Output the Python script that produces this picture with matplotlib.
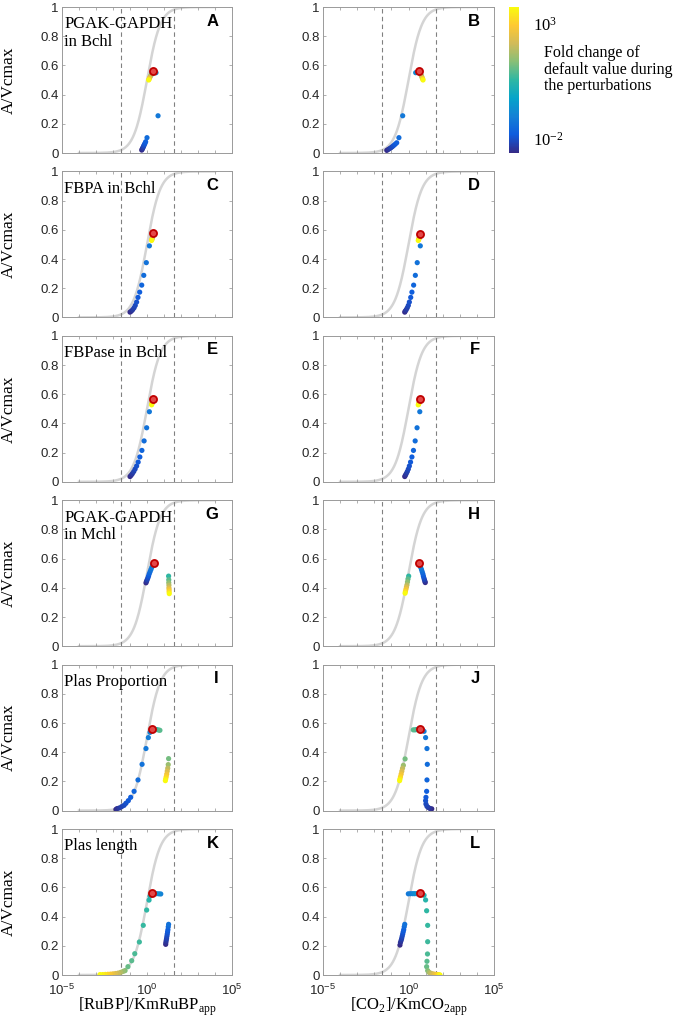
import matplotlib
matplotlib.use("Agg")
import matplotlib.pyplot as plt
import numpy as np
from matplotlib.colors import LinearSegmentedColormap
from matplotlib.ticker import FixedLocator, FixedFormatter, NullLocator

plt.rcParams['mathtext.fontset'] = 'custom'
plt.rcParams['mathtext.rm'] = 'Liberation Serif'
plt.rcParams['mathtext.sf'] = 'Liberation Sans'
plt.rcParams['font.family'] = ['Liberation Sans', 'DejaVu Sans']

# ---- data (log10 x, A/Vcmax, log10 fold change) ----
A_logx = [-0.31, -0.28, -0.25, -0.22, -0.19, -0.16, -0.12, -0.08, 0.0, 0.65, 0.53,
          0.30, 0.25, 0.20, 0.15, 0.12, 0.10]
A_y = [0.020, 0.027, 0.034, 0.041, 0.049, 0.057, 0.066, 0.077, 0.105, 0.255, 0.55,
       0.545, 0.535, 0.525, 0.515, 0.505, 0.50]
A_fold = [-2.0, -1.9, -1.8, -1.7, -1.6, -1.5, -1.4, -1.3, -1.1, -0.9, -0.6,
          0.5, 1.0, 1.5, 2.0, 2.5, 3.0]

B_logx = [-1.27, -1.19, -1.11, -1.03, -0.95, -0.87, -0.78, -0.69, -0.56, -0.34, 0.42,
          0.69, 0.73, 0.77, 0.80, 0.83, 0.85]
B_y = [0.018, 0.024, 0.030, 0.036, 0.043, 0.051, 0.060, 0.070, 0.105, 0.255, 0.55,
       0.546, 0.535, 0.525, 0.515, 0.507, 0.50]
B_fold = A_fold

C_logx = [-1.0, -0.92, -0.84, -0.76, -0.69, -0.61, -0.53, -0.43, -0.31, -0.19, -0.04, 0.14,
          0.33, 0.32, 0.31, 0.30, 0.28, 0.27]
C_y = [0.036, 0.043, 0.053, 0.066, 0.082, 0.105, 0.137, 0.173, 0.221, 0.288, 0.375, 0.49,
       0.56, 0.552, 0.545, 0.538, 0.532, 0.527]
C_fold = [-2.0, -1.9, -1.8, -1.7, -1.6, -1.5, -1.4, -1.3, -1.2, -1.1, -1.0, -0.9,
          0.5, 1.0, 1.5, 2.0, 2.5, 3.0]

D_logx = [-0.22, -0.19, -0.13, -0.07, -0.01, 0.05, 0.13, 0.20, 0.30, 0.40, 0.51, 0.69,
          0.67, 0.65, 0.63, 0.61, 0.59, 0.57]
D_y = C_y
D_fold = C_fold

E_logx = [-1.0, -0.93, -0.86, -0.78, -0.70, -0.61, -0.52, -0.42, -0.30, -0.17, -0.02, 0.14,
          0.33, 0.32, 0.31, 0.30, 0.28, 0.27]
E_y = [0.036, 0.045, 0.056, 0.070, 0.087, 0.108, 0.135, 0.170, 0.215, 0.28, 0.37, 0.48,
       0.56, 0.552, 0.545, 0.538, 0.532, 0.527]
E_fold = C_fold

F_logx = [-0.22, -0.18, -0.13, -0.07, -0.01, 0.05, 0.12, 0.20, 0.29, 0.39, 0.50, 0.66,
          0.67, 0.65, 0.63, 0.61, 0.59, 0.57]
F_y = E_y
F_fold = C_fold

G_logx = [-0.06, -0.03, 0.01, 0.05, 0.09, 0.13, 0.18, 0.23, 0.28, 0.33,
          1.27, 1.28, 1.28, 1.29, 1.29, 1.30, 1.30, 1.31]
G_y = [0.434, 0.444, 0.455, 0.467, 0.48, 0.495, 0.51, 0.525, 0.54, 0.555,
       0.48, 0.455, 0.435, 0.418, 0.40, 0.387, 0.373, 0.36]
G_fold = [-2.0, -1.85, -1.7, -1.55, -1.4, -1.25, -1.1, -0.95, -0.8, -0.6,
          0.5, 0.85, 1.2, 1.55, 1.9, 2.25, 2.6, 3.0]

H_logx = [0.98, 0.96, 0.93, 0.90, 0.87, 0.84, 0.80, 0.76, 0.71, 0.66,
          0.01, -0.03, -0.06, -0.09, -0.12, -0.15, -0.18, -0.20]
H_y = [0.436, 0.444, 0.455, 0.467, 0.48, 0.495, 0.51, 0.525, 0.54, 0.555,
       0.48, 0.46, 0.44, 0.42, 0.405, 0.39, 0.375, 0.363]
H_fold = G_fold

I_logx = [-1.82, -1.75, -1.63, -1.49, -1.35, -1.24, -1.10, -0.96, -0.76, -0.53, -0.29, -0.06, 0.08, 0.18,
          0.45, 0.57, 0.68, 0.76, 1.27, 1.25, 1.22, 1.19, 1.16, 1.13, 1.10, 1.08]
I_y = [0.009, 0.014, 0.018, 0.027, 0.036, 0.05, 0.068, 0.091, 0.132, 0.21, 0.317, 0.425, 0.50, 0.536,
       0.557, 0.555, 0.552, 0.55, 0.356, 0.315, 0.29, 0.27, 0.25, 0.232, 0.217, 0.205]
I_fold = [-2.0, -1.9, -1.8, -1.7, -1.6, -1.5, -1.4, -1.3, -1.2, -1.1, -1.0, -0.9, -0.8, -0.7,
          0.2, 0.4, 0.6, 0.8, 1.0, 1.3, 1.6, 1.9, 2.2, 2.5, 2.8, 3.0]

J_logx = [1.36, 1.26, 1.16, 1.08, 1.02, 1.00, 1.02, 1.06, 1.08, 1.10, 1.08, 1.00, 0.91, 0.80,
          0.58, 0.48, 0.38, 0.28, -0.20, -0.30, -0.35, -0.39, -0.43, -0.47, -0.50, -0.52]
J_y = [0.012, 0.014, 0.021, 0.029, 0.045, 0.068, 0.091, 0.132, 0.21, 0.317, 0.425, 0.50, 0.543, 0.555,
       0.557, 0.555, 0.553, 0.553, 0.354, 0.31, 0.29, 0.27, 0.25, 0.232, 0.217, 0.205]
J_fold = I_fold

K_logx = [1.10, 1.11, 1.13, 1.15, 1.17, 1.19, 1.21, 1.23, 1.25, 1.27, 0.81, 0.70, 0.57, 0.45,
          0.18, 0.12, -0.02, -0.22, -0.45, -0.72, -0.90, -1.12, -1.29,
          -1.40, -1.55, -1.70, -1.85, -2.0, -2.15, -2.30, -2.45, -2.60, -2.76]
K_y = [0.21, 0.223, 0.237, 0.25, 0.265, 0.28, 0.295, 0.31, 0.33, 0.347, 0.555, 0.556, 0.557, 0.558,
       0.54, 0.513, 0.445, 0.34, 0.226, 0.146, 0.098, 0.057, 0.03,
       0.025, 0.018, 0.013, 0.010, 0.008, 0.006, 0.005, 0.004, 0.003, 0.003]
K_fold = [-2.0, -1.9, -1.8, -1.7, -1.6, -1.5, -1.4, -1.3, -1.15, -1.0, -0.75, -0.6, -0.45, -0.3,
          0.3, 0.4, 0.5, 0.55, 0.6, 0.7, 0.8, 0.9, 1.1,
          1.3, 1.5, 1.7, 1.9, 2.1, 2.3, 2.5, 2.7, 2.85, 3.0]

L_logx = [-0.50, -0.47, -0.43, -0.40, -0.37, -0.34, -0.31, -0.28, -0.25, -0.22, -0.01, 0.12, 0.25, 0.36, 0.48, 0.58,
          0.91, 1.00, 1.06, 1.12, 1.12, 1.11, 1.08, 1.06, 1.12,
          1.20, 1.30, 1.40, 1.50, 1.60, 1.68, 1.74, 1.80, 1.84]
L_y = [0.205, 0.223, 0.237, 0.25, 0.265, 0.28, 0.295, 0.31, 0.33, 0.347, 0.556, 0.557, 0.557, 0.557, 0.557, 0.558,
       0.546, 0.514, 0.44, 0.34, 0.228, 0.144, 0.094, 0.057, 0.03,
       0.018, 0.012, 0.008, 0.006, 0.004, 0.003, 0.002, 0.001, 0.0]
L_fold = [-2.0, -1.9, -1.8, -1.7, -1.6, -1.5, -1.4, -1.3, -1.15, -1.0, -0.9, -0.8, -0.7, -0.55, -0.45, -0.3,
          0.3, 0.4, 0.5, 0.55, 0.6, 0.7, 0.8, 0.9, 1.1,
          1.4, 1.6, 1.8, 2.0, 2.2, 2.4, 2.6, 2.8, 3.0]

# default (unperturbed) state, panels A..L
default_logx = [0.37, 0.61, 0.35, 0.69, 0.35, 0.69, 0.39, 0.60, 0.31, 0.69, 0.31, 0.69]
default_y = [0.564, 0.564, 0.577, 0.573, 0.57, 0.57, 0.568, 0.568, 0.56, 0.56, 0.56, 0.56]

panel_letters = list("ABCDEFGHIJKL")
row_names = ["PGAK-GAPDH\nin Bchl", "FBPA in Bchl", "FBPase in Bchl",
             "PGAK-GAPDH\nin Mchl", "Plas Proportion", "Plas length"]
limit_lines = [10 ** -1.55, 10 ** 1.6]
Km = 1.0
hill_n = 1.1

series = [(A_logx, A_y, A_fold), (B_logx, B_y, B_fold), (C_logx, C_y, C_fold),
          (D_logx, D_y, D_fold), (E_logx, E_y, E_fold), (F_logx, F_y, F_fold),
          (G_logx, G_y, G_fold), (H_logx, H_y, H_fold), (I_logx, I_y, I_fold),
          (J_logx, J_y, J_fold), (K_logx, K_y, K_fold), (L_logx, L_y, L_fold)]

# parula-like colormap
parula = LinearSegmentedColormap.from_list('parula', [
    (0.2081, 0.1663, 0.5292), (0.0592, 0.3599, 0.8684), (0.0780, 0.5041, 0.8385),
    (0.0232, 0.6419, 0.7914), (0.1802, 0.7178, 0.6425), (0.5301, 0.7492, 0.4662),
    (0.8186, 0.7328, 0.3499), (0.9956, 0.7862, 0.1968), (0.9763, 0.9831, 0.0538)])

W, H = 679, 1023
fig = plt.figure(figsize=(W / 100, H / 100), dpi=100)

col_left = [62, 323]
col_width = [170, 171]
row_top = [7, 171.4, 335.8, 500.2, 664.6, 829]
ax_h = 146

S = np.logspace(-4, 4, 400)
curve = S ** hill_n / (Km ** hill_n + S ** hill_n)

for i, (lx, yy, ff) in enumerate(series):
    r, c = divmod(i, 2)
    ax = fig.add_axes([col_left[c] / W, 1 - (row_top[r] + ax_h) / H, col_width[c] / W, ax_h / H])
    ax.plot(S, curve, color='#d4d4d4', lw=1.8, zorder=1)
    for xv in limit_lines:
        ax.plot([xv, xv], [0, 1], color='#808080', lw=0.8, dashes=(4, 3), zorder=1)
    ax.scatter(10 ** np.array(lx), yy, c=ff, cmap=parula, vmin=-2, vmax=3, s=14,
               edgecolors='none', zorder=3)
    ax.scatter([10 ** default_logx[i]], [default_y[i]], s=26, facecolor='#e34848',
               edgecolor='#c00000', linewidth=1.3, zorder=4)
    ax.set_xscale('log')
    ax.set_xlim(1e-5, 1e5)
    ax.set_ylim(0, 1)
    ax.xaxis.set_major_locator(FixedLocator([10.0 ** k for k in range(-5, 6)]))
    ax.xaxis.set_minor_locator(NullLocator())
    if r == 5:
        labs = [r'$\mathsf{10^{-5}}$' if k == -5 else r'$\mathsf{10^{0}}$' if k == 0
                else r'$\mathsf{10^{5}}$' if k == 5 else '' for k in range(-5, 6)]
    else:
        labs = [''] * 11
    ax.xaxis.set_major_formatter(FixedFormatter(labs))
    ax.set_yticks([0, 0.2, 0.4, 0.6, 0.8, 1])
    ax.set_yticklabels(['0', '0.2', '0.4', '0.6', '0.8', '1'])
    ax.tick_params(direction='in', length=2.5, width=0.5, color='#909090', top=True, right=True,
                   labelsize=9.5, labelcolor='#262626', pad=2.5)
    ax.tick_params(axis='x', pad=5.5)
    for sp in ax.spines.values():
        sp.set_color('#9a9a9a')
        sp.set_linewidth(0.7)
    ax.text(0.92, 0.955, panel_letters[i], transform=ax.transAxes, ha='right', va='top',
            fontsize=12, fontweight='bold', family='Liberation Sans')
    if c == 0:
        ax.text(0.012, 0.935, row_names[r], transform=ax.transAxes, ha='left', va='top',
                fontsize=12, family='Liberation Serif', linespacing=1.1)
        fig.text(9 / W, 1 - (row_top[r] + ax_h / 2) / H, 'A/Vcmax', rotation=90,
                 ha='center', va='center', fontsize=12.5, family='Liberation Serif')

fig.text(147 / W, 1 - 1007 / H, r'[RuBP]/KmRuBP$_{\mathrm{app}}$', ha='center', va='center',
         fontsize=12, family='Liberation Serif')
fig.text(408.5 / W, 1 - 1007 / H, r'[CO$_{\mathrm{2}}$]/KmCO$_{\mathrm{2app}}$', ha='center',
         va='center', fontsize=12, family='Liberation Serif')

# colorbar
cax = fig.add_axes([509 / W, 1 - 153 / H, 10 / W, 146 / H])
sm = plt.cm.ScalarMappable(cmap=parula, norm=plt.Normalize(-2, 3))
cb = fig.colorbar(sm, cax=cax)
cb.set_ticks([])
cb.outline.set_visible(False)
fig.text(533 / W, 1 - 25 / H, r'$\mathrm{10^{3}}$', ha='left', va='center', fontsize=12)
fig.text(533 / W, 1 - 140 / H, r'$\mathrm{10^{-2}}$', ha='left', va='center', fontsize=12)
fig.text(544 / W, 1 - 45 / H, 'Fold change of\ndefault value during\nthe perturbations',
         ha='left', va='top', fontsize=11.5, family='Liberation Serif', linespacing=1.05)

fig.savefig('out.png', dpi=100)
